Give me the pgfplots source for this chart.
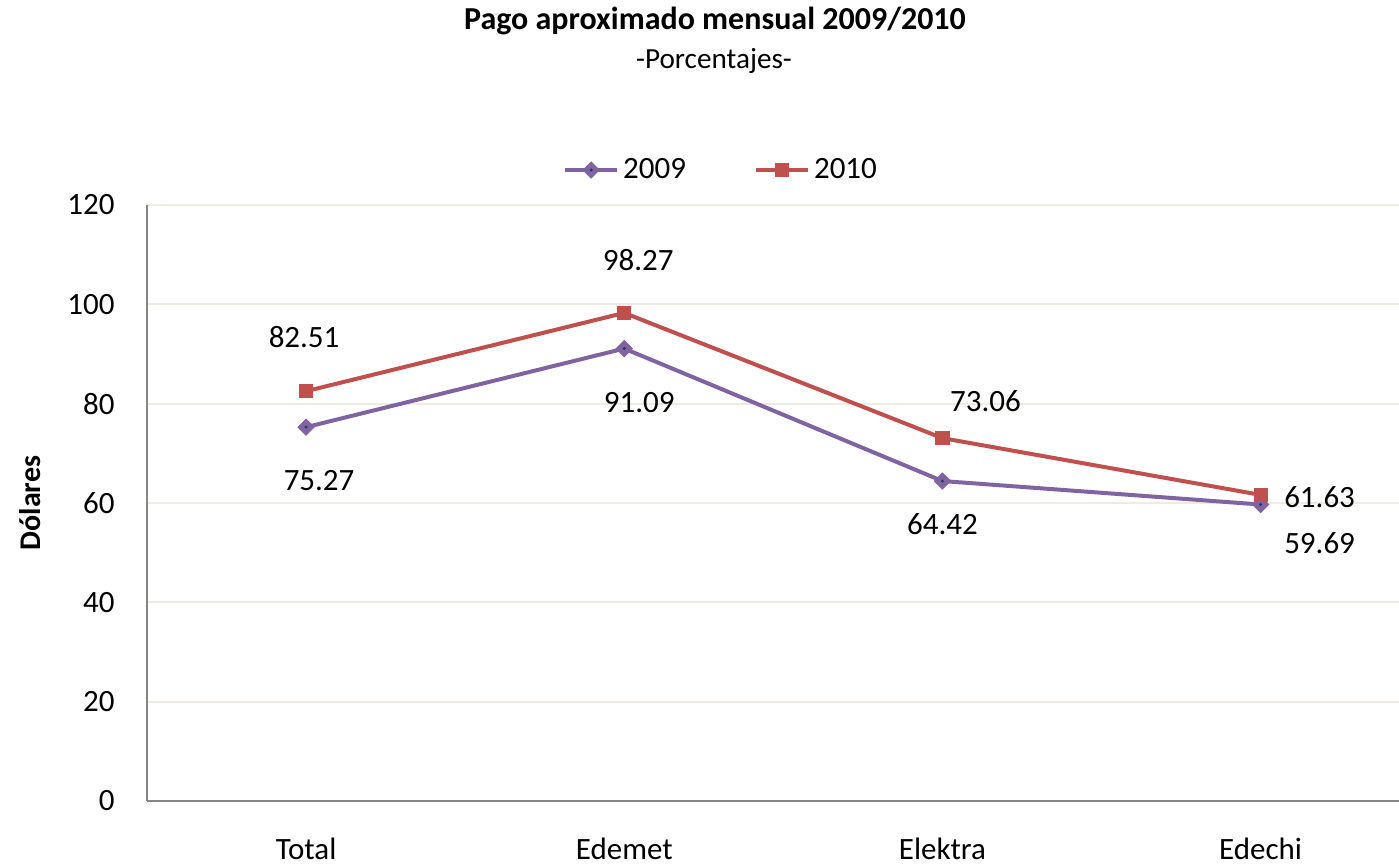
\documentclass[border=0pt]{standalone}
\usepackage{pgfplots}
\pgfplotsset{compat=1.18}
\usepackage{pgfplotstable}
\usepackage{fontspec}
\setmainfont{Carlito}
\definecolor{cA}{HTML}{8064A2}
\definecolor{cB}{HTML}{C0504D}
\definecolor{gridc}{HTML}{EEECE1}
\definecolor{axgray}{HTML}{868686}
\definecolor{dotblue}{HTML}{1F3864}
\pgfdeclareplotmark{diadot}{%
  \pgfpathmoveto{\pgfqpoint{0pt}{\pgfplotmarksize}}%
  \pgfpathlineto{\pgfqpoint{\pgfplotmarksize}{0pt}}%
  \pgfpathlineto{\pgfqpoint{0pt}{-\pgfplotmarksize}}%
  \pgfpathlineto{\pgfqpoint{-\pgfplotmarksize}{0pt}}%
  \pgfpathclose\pgfusepathqfillstroke
  \begin{pgfscope}%
  \pgfsetfillcolor{dotblue}%
  \pgfpathcircle{\pgfpointorigin}{0.8pt}\pgfusepath{fill}%
  \end{pgfscope}}

\pgfplotstableread{
x y dx dy lab
0 75.27 6.5 -26.5 75.27
1 91.09 7.5 -27 91.09
2 64.42 0 -21.5 64.42
3 59.69 29.5 -19.5 59.69
}\tabA
\pgfplotstableread{
x y dx dy lab
0 82.51 -1 27 82.51
1 98.27 7 26.5 98.27
2 73.06 21.5 18.5 73.06
3 61.63 29.5 -1 61.63
}\tabB

\begin{document}
\begin{tikzpicture}
\useasboundingbox (0,0) rectangle (699.5pt,432.5pt);
\begin{axis}[
  at={(73.5pt,32pt)}, anchor=south west,
  scale only axis, width=626pt, height=298pt,
  xmin=-0.5, xmax=3.435, ymin=0, ymax=120,
  ytick={0,20,...,120},
  xtick={0,1,2,3}, xticklabels={Total,Edemet,Elektra,Edechi},
  axis lines=left,
  axis line style={-, draw=axgray, line width=1pt},
  major tick length=0pt,
  ymajorgrids, grid style={draw=gridc, line width=1pt},
  tick label style={font=\fontsize{15.5}{18}\selectfont, text=black},
  /pgf/number format/assume math mode=true,
  yticklabel style={anchor=east, inner sep=0pt, xshift=-16pt},
  xticklabel style={anchor=base, yshift=-29.5pt},
  legend style={at={(0.4593,1.0587)}, anchor=center, draw=none,
    font=\fontsize{15.5}{18}\selectfont, /tikz/every even column/.append style={column sep=32pt},
    inner sep=0pt},
  legend columns=2,
  legend image code/.code={\draw[mark repeat=2,mark phase=2] plot coordinates {(0pt,0pt)(13pt,0pt)(26pt,0pt)};},
  nodes near coords,
  point meta=explicit symbolic,
  visualization depends on={\thisrow{dx} \as \dx},
  visualization depends on={\thisrow{dy} \as \dy},
  every node near coord/.append style={anchor=center, text=black,
    font=\fontsize{15.5}{18}\selectfont, xshift=\dx pt, yshift=\dy pt},
]
\addplot[color=cA, line width=2pt, mark=diadot, mark size=4pt,
  mark options={solid, line width=0.5pt, fill=cA, draw=cA}]
  table[x=x, y=y, meta=lab] {\tabA};
\addlegendentry{2009}
\addplot[color=cB, line width=2pt, mark=square*, mark size=3.3pt,
  mark options={solid, line width=0.5pt, fill=cB, draw=cB}]
  table[x=x, y=y, meta=lab] {\tabB};
\addlegendentry{2010}
\end{axis}
\node[anchor=base, font=\fontsize{16}{19}\selectfont\bfseries] at (357.5pt,417.5pt) {Pago aproximado mensual 2009/2010};
\node[anchor=base, font=\fontsize{14.6}{17}\selectfont] at (357pt,398pt) {-Porcentajes-};
\node[rotate=90, font=\fontsize{15}{18}\selectfont\bfseries] at (15pt,181pt) {Dólares};
\end{tikzpicture}
\end{document}
